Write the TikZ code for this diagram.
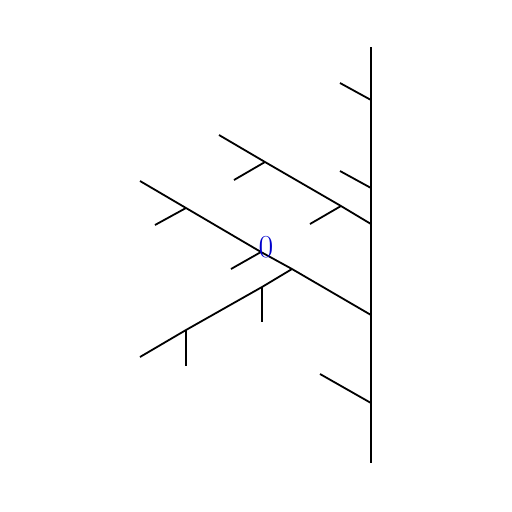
\documentclass[tikz,border=0pt]{standalone}
\begin{document}
\begin{tikzpicture}[x=1pt,y=-1pt,
  br/.style={line width=1.8pt, black},
  lbl/.style={text=labelblue, font=\fontsize{32}{32}\selectfont, inner sep=0pt}]
\definecolor{labelblue}{rgb}{0,0,0.8}
\useasboundingbox (0,0) rectangle (512,512);
% trunk
\coordinate (t0) at (371,47);
\coordinate (t1) at (371,100);
\coordinate (t2) at (371,188);
\coordinate (t3) at (371,224);
\coordinate (t4) at (371,315);
\coordinate (t5) at (371,403);
\coordinate (t6) at (371,463);
% branch tips
\coordinate (b1) at (340,83);
\coordinate (b2) at (340,171);
\coordinate (a1) at (341,206);
\coordinate (a2) at (265,162);
\coordinate (a3) at (219,135);
\coordinate (a1t) at (310,224);
\coordinate (a2t) at (234,180);
\coordinate (d1) at (292,269);
\coordinate (d2) at (261,252);
\coordinate (d3) at (186,208);
\coordinate (d4) at (140,181);
\coordinate (d2t) at (231,269);
\coordinate (d3t) at (155,225);
\coordinate (e1) at (262,287);
\coordinate (e2) at (186,330);
\coordinate (e3) at (140,357);
\coordinate (e1t) at (262,322);
\coordinate (e2t) at (186,366);
\coordinate (b5) at (320,374);
\draw[br] (t0) -- (t6);
\draw[br] (t1) -- (b1);
\draw[br] (t2) -- (b2);
\draw[br] (t3) -- (a1) -- (a2) -- (a3);
\draw[br] (a1) -- (a1t);
\draw[br] (a2) -- (a2t);
\draw[br] (t4) -- (d1) -- (d2) -- (d3) -- (d4);
\draw[br] (d2) -- (d2t);
\draw[br] (d3) -- (d3t);
\draw[br] (d1) -- (e1) -- (e2) -- (e3);
\draw[br] (e1) -- (e1t);
\draw[br] (e2) -- (e2t);
\draw[br] (t5) -- (b5);
\node[lbl] (zero) at (266,247) {0};
\end{tikzpicture}
\end{document}
